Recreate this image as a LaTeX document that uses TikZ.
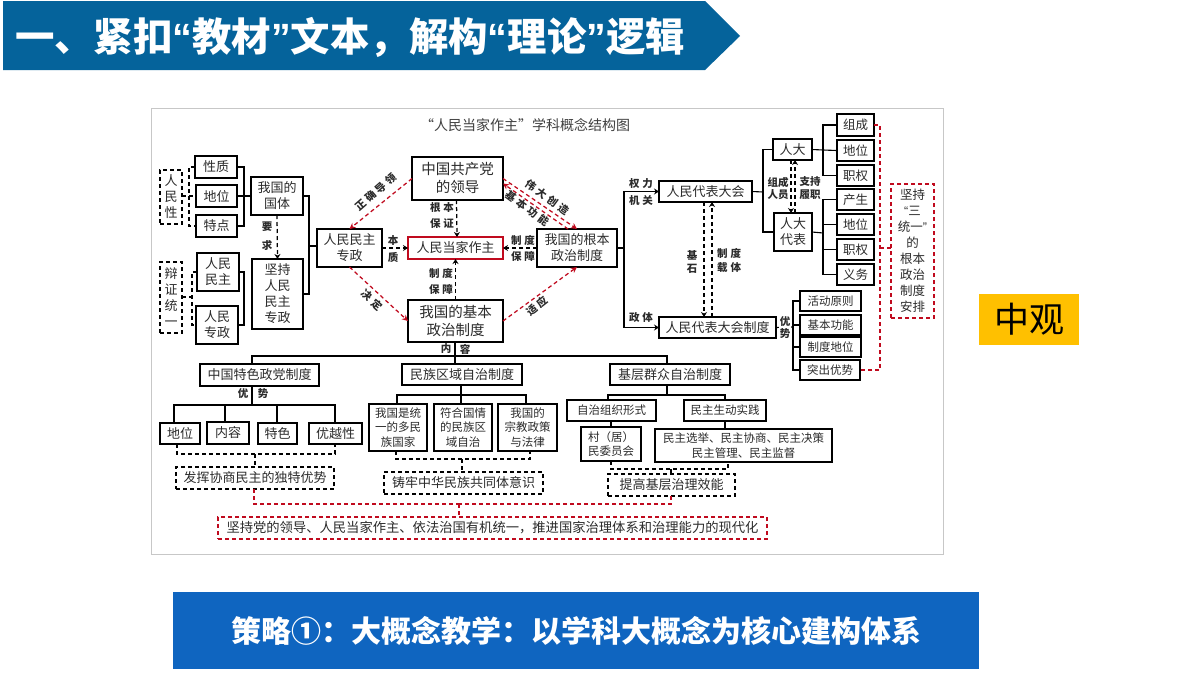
\documentclass[tikz,border=0pt]{standalone}
\usepackage{fontspec}
\usetikzlibrary{arrows.meta,calc}
\setmainfont{Noto Sans CJK SC}
\newfontfamily\latq{Liberation Sans}
\definecolor{hdrblue}{HTML}{05639B}
\definecolor{btmblue}{HTML}{0F65C0}
\definecolor{mkred}{HTML}{C00A1E}
\definecolor{ink}{HTML}{2B2B2B}
\definecolor{ambr}{HTML}{FFC000}
\newcommand{\LQ}{{\latq “}}
\newcommand{\RQ}{{\latq ”}}
\newcommand{\gp}{\hspace{3pt}}
\newcommand{\bx}[7][]{%
 \pgfmathsetmacro{\bxw}{#5-#3}\pgfmathsetmacro{\bxh}{#6-#4}%
 \node[boxs,#1,minimum width=\bxw pt,minimum height=\bxh pt] (#2) at ({(#3+#5)/2},{(#4+#6)/2}) {#7};}
\newcount\lbc
\newcommand{\lb}[4][0]{\global\advance\lbc by 1
 \node[lbls,rotate=#1] (lb\the\lbc) at (#2,#3) {#4};}
\tikzset{
 boxs/.style={draw=black,line width=1.1pt,inner sep=0pt,outer sep=0pt,align=center,text=ink,font=\fontsize{13}{16}\selectfont},
 smalltxt/.style={font=\fontsize{11.5}{14.5}\selectfont},
 dbox/.style={dash pattern=on 4pt off 3pt},
 rbox/.style={draw=mkred,dash pattern=on 4pt off 3pt},
 lbls/.style={inner sep=0pt,font=\bfseries\fontsize{10.5}{12}\selectfont,text=ink},
 tree/.style={draw=black,line width=1.1pt},
 dk/.style={draw=black,line width=1.25pt,dash pattern=on 4pt off 3pt},
 rd/.style={draw=mkred,line width=1.25pt,dash pattern=on 4pt off 3pt},
 arr/.style={-{Stealth[length=5pt,width=6pt]}},
 rarr/.style={-{Stealth[length=6pt,width=6pt,open]}},
}
\begin{document}
\begin{tikzpicture}[x=1pt,y=-1pt]
\useasboundingbox (0,0) rectangle (1200,675);
\fill[white] (0,0) rectangle (1200,675);
% header
\fill[hdrblue] (3,1) -- (705,1) -- (740,36) -- (705,70) -- (3,70) -- cycle;
\node[inner sep=0pt,text=white,font=\bfseries\fontsize{39.4}{42}\selectfont,anchor=west] (hdr) at (15,37) {一、紧扣\LQ 教材\RQ 文本，解构\LQ 理论\RQ 逻辑};
% panel
\node[draw=black!22,line width=1pt,fill=white,inner sep=0pt,minimum width=792pt,minimum height=446pt] (panel) at (547,331) {};
\node[inner sep=0pt,text=black!75,font=\fontsize{14}{16}\selectfont] (ttl) at (525,125) {“人民当家作主”学科概念结构图};
% side and bottom
\node[fill=ambr,inner sep=0pt,minimum width=100pt,minimum height=51pt,font=\fontsize{35}{37}\selectfont,text=black] (zg2) at (1029,319.5) {中观\hspace{10pt}};
\node[fill=btmblue,inner sep=0pt,minimum width=806pt,minimum height=77pt,text=white,font=\bfseries\fontsize{30}{34}\selectfont] (btm) at (576,630.5) {策略①：大概念教学：以学科大概念为核心建构体系};

% left boxes
\bx{xz}{195}{156}{237}{178}{性质}
\bx{dw}{196}{185}{237}{207}{地位}
\bx{td}{196}{215}{237}{237}{特点}
\bx{gt}{251}{177}{303}{215}{我国的\\国体}
\bx{jc}{252}{259}{303}{329}{坚持\\人民\\民主\\专政}
\bx{rm}{317}{229}{382}{267}{人民民主\\专政}
\bx[dbox]{rmx}{160}{170}{182}{224}{人\\民\\性}
\bx[dbox]{bz}{160}{262}{182}{333}{辩\\证\\统\\一}
\bx{mz}{197}{253}{239}{291}{人民\\民主}
\bx{zz}{196}{306}{238}{344}{人民\\专政}
% centre
\bx[font=\fontsize{14.5}{18}\selectfont]{zg}{412}{157}{503}{200}{中国共产党\\的领导}
\bx[draw=mkred]{dj}{408}{237}{503}{259}{人民当家作主}
\bx[font=\fontsize{14.5}{18}\selectfont]{jb}{408}{300}{503}{342}{我国的基本\\政治制度}
\bx{gb}{537}{229}{617}{267}{我国的根本\\政治制度}
% right
\bx{db}{659}{181}{752}{202}{人民代表大会}
\bx{dz}{659}{317}{776}{338}{人民代表大会制度}
\bx{rd1}{773}{139}{812}{160}{人大}
\bx{rd2}{774}{213}{812}{251}{人大\\代表}
\bx[font=\fontsize{12.5}{15}\selectfont]{a1}{837}{114}{874}{136}{组成}
\bx[font=\fontsize{12.5}{15}\selectfont]{a2}{837}{140}{874}{161}{地位}
\bx[font=\fontsize{12.5}{15}\selectfont]{a3}{837}{165}{874}{186}{职权}
\bx[font=\fontsize{12.5}{15}\selectfont]{b1}{837}{189}{874}{210}{产生}
\bx[font=\fontsize{12.5}{15}\selectfont]{b2}{837}{214}{874}{235}{地位}
\bx[font=\fontsize{12.5}{15}\selectfont]{b3}{837}{239}{874}{260}{职权}
\bx[font=\fontsize{12.5}{15}\selectfont]{b4}{837}{264}{874}{285}{义务}
\bx[smalltxt]{c1}{800}{291}{861}{311}{活动原则}
\bx[smalltxt]{c2}{800}{315}{861}{335}{基本功能}
\bx[smalltxt]{c3}{800}{337}{861}{357}{制度地位}
\bx[smalltxt]{c4}{800}{360}{860}{380}{突出优势}
\bx[rbox,font=\fontsize{12.5}{16}\selectfont]{sty}{891}{184}{934}{318}{坚持\\\LQ 三\\统一\RQ\\的\\根本\\政治\\制度\\安排}
% lower
\bx{p1}{200}{364}{319}{386}{中国特色政党制度}
\bx{p2}{402}{364}{522}{385}{民族区域自治制度}
\bx{p3}{610}{364}{730}{385}{基层群众自治制度}
\bx{q1}{160}{423}{200}{444}{地位}
\bx{q2}{207}{422}{249}{444}{内容}
\bx{q3}{258}{423}{297}{444}{特色}
\bx{q4}{309}{423}{362}{444}{优越性}
\bx[smalltxt]{r1}{369}{404}{427}{451}{我国是统\\一的多民\\族国家}
\bx[smalltxt]{r2}{434}{404}{492}{451}{符合国情\\的民族区\\域自治}
\bx[smalltxt]{r3}{498}{404}{557}{451}{我国的\\宗教政策\\与法律}
\bx[smalltxt]{s1}{567}{400}{656}{421}{自治组织形式}
\bx[smalltxt]{s2}{684}{400}{766}{421}{民主生动实践}
\bx[smalltxt]{t1}{581}{427}{641}{461}{村（居）\\民委员会}
\bx[smalltxt]{t2}{655}{429}{832}{462}{民主选举、民主协商、民主决策\\民主管理、民主监督}
\bx[dbox]{u1}{176}{467}{334}{489}{发挥协商民主的独特优势}
\bx[dbox]{u2}{384}{472}{543}{494}{铸牢中华民族共同体意识}
\bx[dbox]{u3}{608}{474}{735}{496}{提高基层治理效能}
\bx[rbox,font=\fontsize{13.3}{16}\selectfont]{v}{218}{517}{767}{539}{坚持党的领导、人民当家作主、依法治国有机统一，推进国家治理体系和治理能力的现代化}

% left trees
\coordinate (n1) at (244,197);
\draw[tree] (xz.east) -| (n1) |- (td.east);
\draw[tree] (dw.east) -- (gt.west|-dw.east);
\coordinate (n2) at (309,246);
\draw[tree] (gt.east) -| (n2) |- (jc.east);
\draw[tree] (n2) -- (rm.west|-n2);
\coordinate (n3) at (244,290);
\draw[tree] (mz.east) -| (n3) |- (zz.east);
\coordinate (n4) at (189,196);
\draw[dk] (xz.west) -| (n4) |- (td.west);
\draw[dk] (rmx.east|-n4) -- (dw.west|-n4);
\coordinate (n5) at (192,297);
\draw[dk] (mz.west) -| (n5) |- (zz.west);
\draw[dk] (bz.east|-n5) -- (n5);
\draw[dk,arr] (gt.south) -- (jc.north);
\lb{267}{227}{要}\lb{267}{245}{求}
% centre connectors
\draw[rd,rarr] (zg.west) -- (rm.north);
\draw[rd,rarr] (rm.south) -- (jb.west);
\draw[rd,rarr] (jb.east) -- (gb.south);
\draw[rd,rarr] (zg.east) -- (gb.north);
\draw[rd,rarr] ([xshift=-9pt]gb.north) -- ([yshift=-5pt]zg.east);
\draw[dk,arr] ([xshift=-1pt]zg.south) -- ([xshift=1.5pt]dj.north);
\draw[dk,arr] (jb.north) -- (dj.south);
\draw[dk,arr] (rm.east) -- (dj.west);
\draw[dk,arr] (gb.west) -- (dj.east);
\lb[41]{376}{192}{正\gp 确\gp 导\gp 领}
\lb[-42]{372}{300}{决\gp 定}
\lb[38]{537}{306}{适\gp 应}
\lb[-36]{547}{197}{伟\gp 大\gp 创\gp 造}
\lb[-36]{527}{208}{基\gp 本\gp 功\gp 能}
\lb{442}{208}{根\gp 本}\lb{442}{224}{保\gp 证}
\lb{441}{273}{制\gp 度}\lb{441}{289}{保\gp 障}
\lb{393}{241}{本}\lb{393}{257}{质}
\lb{523}{240}{制\gp 度}\lb{523}{256}{保\gp 障}
% right trees
\coordinate (n6) at (624,248);
\draw[tree] (gb.east) -- (n6);
\draw[tree,arr] (n6) |- (db.west);
\draw[tree,arr] (n6) |- (dz.west);
\coordinate (n7) at (763,192);
\draw[tree] (db.east) -- (n7);
\draw[tree] (rd1.west) -| (n7) |- (rd2.west);
\coordinate (n8) at (823,150);
\draw[tree] (rd1.east) -- (n8);
\draw[tree] (a1.west) -| (n8) |- (a3.west);
\draw[tree] (n8) -- (a2.west);
\coordinate (n9) at (823,233);
\draw[tree] (rd2.east) -- (n9);
\draw[tree] (b1.west) -| (n9) |- (b4.west);
\draw[tree] (b2.west) -- (b2.west-|n9);
\draw[tree] (b3.west) -- (b3.west-|n9);
\coordinate (n10) at (793,327);
\draw[tree] (dz.east) -- (n10);
\draw[tree] (c1.west) -| (n10) |- (c4.west);
\draw[tree] (c2.west) -- (c2.west-|n10);
\draw[tree] (c3.west) -- (c3.west-|n10);
\coordinate (n11) at (880,248);
\draw[rd] (a1.east) -| (n11) |- (c4.east);
\draw[rd] (n11) -- (sty.west|-n11);
\draw[dk,arr] ([xshift=-1.5pt]db.south) -- ([xshift=-13.5pt]dz.north);
\draw[dk,arr] ([xshift=-5.5pt]dz.north) -- ([xshift=6.5pt]db.south);
\draw[dk,arr] ([xshift=-1.5pt]rd1.south) -- ([xshift=-2pt]rd2.north);
\draw[dk,arr] ([xshift=2pt]rd2.north) -- ([xshift=2.5pt]rd1.south);
\lb{641}{184}{权\gp 力}\lb{641}{201}{机\gp 关}\lb{641}{318}{政\gp 体}
\lb{692}{255}{基}\lb{692}{269}{石}
\lb{729}{253}{制\gp 度}\lb{729}{268}{载\gp 体}
\lb{778}{182}{组成}\lb{778}{195}{人员}
\lb{810}{182}{支持}\lb{810}{195}{履职}
\node[lbls,fill=white,inner sep=0.5pt,align=center,font=\bfseries\fontsize{10.5}{12}\selectfont] (ys) at (785,327.5) {优\\势};
% lower trees
\coordinate (m0) at (455,356);
\draw[tree] (jb.south-|m0) -- (m0);
\draw[tree] (252,364) |- (m0);
\draw[tree] (667,364) |- (m0);
\draw[tree] (m0) -- (m0|-p2.north);
\lb{446}{349}{内}\lb{465}{349}{容}
\coordinate (m1) at (252,405);
\draw[tree] (p1.south-|m1) -- (m1);
\draw[tree] (174,423) |- (m1);
\draw[tree] (335,423) |- (m1);
\draw[tree] (225,422) -- (225,405);
\draw[tree] (277,423) -- (277,405);
\lb{243}{394}{优}\lb{263}{394}{势}
\coordinate (m2) at (461,395);
\draw[tree] (p2.south-|m2) -- (m2);
\draw[tree] (397,404) |- (m2);
\draw[tree] (526,404) |- (m2);
\draw[tree] (r2.north-|m2) -- (m2);
\coordinate (m3) at (667,395);
\draw[tree] (p3.south-|m3) -- (m3);
\draw[tree] (608,400) |- (m3);
\draw[tree] (725,400) |- (m3);
\draw[tree] (611,421) -- (611,427);
\draw[tree] (725,421) -- (725,429);
% dashed brackets
\coordinate (d1) at (255,454);
\draw[dk] (177,444) |- (335,454) -- (335,444);
\draw[dk] (d1) -- (u1.north-|d1);
\coordinate (d2) at (462,459);
\draw[dk] (396,451) |- (530,459) -- (530,451);
\draw[dk] (d2) -- (u2.north-|d2);
\coordinate (d3) at (671,469);
\draw[dk] (611,461) |- (728,469) -- (728,462);
\draw[dk] (d3) -- (u3.north-|d3);
% red joins
\coordinate (e1) at (459,504);
\draw[rd] (254,489) |- (e1);
\draw[rd] (671,496) |- (e1);
\draw[rd] (e1) -- (v.north-|e1);
\end{tikzpicture}
\end{document}
